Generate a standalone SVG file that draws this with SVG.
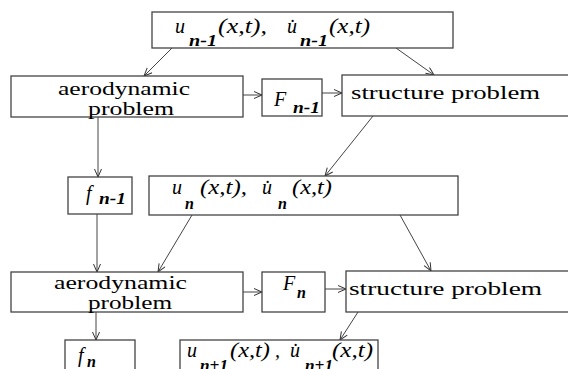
<svg xmlns="http://www.w3.org/2000/svg" width="568" height="369" viewBox="0 0 568 369">
<style>
.box{fill:#fff;stroke:#444;stroke-width:1.3}
text{font-family:'Liberation Serif','DejaVu Serif',serif;fill:#000}
.lbl{font-size:19px}
.m{font-style:italic;font-size:20px}
.s{font-style:italic;font-weight:bold;font-size:16px}
.c{stroke:#444;stroke-width:1;fill:none;marker-end:url(#ah)}
</style>
<defs>
<marker id="ah" markerUnits="userSpaceOnUse" markerWidth="10" markerHeight="10" refX="9" refY="4" orient="auto">
<path d="M1,0.5 L9,4 L1,7.5" fill="none" stroke="#333" stroke-width="1"/>
</marker>
</defs>
<rect width="568" height="369" fill="#fff"/>
<g id="connectors">
<line class="c" x1="172" y1="48" x2="144" y2="76"/>
<line class="c" x1="396" y1="48" x2="434" y2="75"/>
<line class="c" x1="243" y1="95" x2="262" y2="95"/>
<line class="c" x1="322" y1="93" x2="342" y2="93"/>
<line class="c" x1="98" y1="117" x2="98" y2="177"/>
<line class="c" x1="373" y1="116" x2="325" y2="176"/>
<line class="c" x1="97" y1="214" x2="97" y2="272"/>
<line class="c" x1="192" y1="215" x2="158" y2="272"/>
<line class="c" x1="400" y1="215" x2="431" y2="271"/>
<line class="c" x1="243" y1="292" x2="262" y2="292"/>
<line class="c" x1="325" y1="289" x2="346" y2="289"/>
<line class="c" x1="96" y1="312" x2="96" y2="340"/>
<line class="c" x1="358" y1="312" x2="340" y2="340"/>
</g>
<g id="top">
<rect class="box" x="152" y="12" width="301" height="36"/>
<text class="m" x="175" y="33">u</text><text class="s" x="189" y="46" textLength="28" lengthAdjust="spacingAndGlyphs">n-1</text>
<text class="m" x="218" y="33" textLength="49" lengthAdjust="spacingAndGlyphs">(x,t),</text>
<text class="m" x="287" y="33">u&#x307;</text><text class="s" x="300" y="46" textLength="28" lengthAdjust="spacingAndGlyphs">n-1</text>
<text class="m" x="329" y="33" textLength="41" lengthAdjust="spacingAndGlyphs">(x,t)</text>
</g>
<g id="aero1">
<rect class="box" x="11" y="76" width="232" height="41"/>
<text class="lbl" x="58" y="95" textLength="132" lengthAdjust="spacingAndGlyphs">aerodynamic</text>
<text class="lbl" x="88" y="115" textLength="86" lengthAdjust="spacingAndGlyphs">problem</text>
</g>
<g id="F1">
<rect class="box" x="262" y="79" width="60" height="37"/>
<text class="m" x="274" y="106">F</text><text class="s" x="293" y="113" textLength="27" lengthAdjust="spacingAndGlyphs">n-1</text>
</g>
<g id="struct1">
<rect class="box" x="342" y="75" width="240" height="41"/>
<text class="lbl" x="351" y="99" textLength="189" lengthAdjust="spacingAndGlyphs">structure problem</text>
</g>
<g id="f1">
<rect class="box" x="68" y="177" width="64" height="37"/>
<text class="m" x="86" y="200">f</text><text class="s" x="99" y="204" textLength="27" lengthAdjust="spacingAndGlyphs">n-1</text>
</g>
<g id="un">
<rect class="box" x="149" y="176" width="309" height="39"/>
<text class="m" x="172" y="194">u</text><text class="s" x="185" y="209">n</text>
<text class="m" x="200" y="194" textLength="47" lengthAdjust="spacingAndGlyphs">(x,t),</text>
<text class="m" x="262" y="194">u&#x307;</text><text class="s" x="278" y="209">n</text>
<text class="m" x="292" y="194" textLength="40" lengthAdjust="spacingAndGlyphs">(x,t)</text>
</g>
<g id="aero2">
<rect class="box" x="11" y="272" width="232" height="40"/>
<text class="lbl" x="54" y="289" textLength="133" lengthAdjust="spacingAndGlyphs">aerodynamic</text>
<text class="lbl" x="88" y="309" textLength="84" lengthAdjust="spacingAndGlyphs">problem</text>
</g>
<g id="F2">
<rect class="box" x="262" y="272" width="63" height="40"/>
<text class="m" x="283" y="290">F</text><text class="s" x="297" y="298">n</text>
</g>
<g id="struct2">
<rect class="box" x="346" y="271" width="240" height="41"/>
<text class="lbl" x="349" y="295" textLength="193" lengthAdjust="spacingAndGlyphs">structure problem</text>
</g>
<g id="f2">
<rect class="box" x="65" y="340" width="70" height="40"/>
<text class="m" x="78" y="362">f</text><text class="s" x="87" y="367">n</text>
</g>
<g id="un1">
<rect class="box" x="180" y="340" width="198" height="40"/>
<text class="m" x="187" y="357">u</text><text class="s" x="200" y="371" textLength="28" lengthAdjust="spacingAndGlyphs">n+1</text>
<text class="m" x="230" y="357" textLength="40" lengthAdjust="spacingAndGlyphs">(x,t)</text><text class="m" x="275" y="357">,</text>
<text class="m" x="290" y="357">u&#x307;</text><text class="s" x="305" y="371" textLength="28" lengthAdjust="spacingAndGlyphs">n+1</text>
<text class="m" x="332" y="357" textLength="41" lengthAdjust="spacingAndGlyphs">(x,t)</text>
</g>
</svg>
